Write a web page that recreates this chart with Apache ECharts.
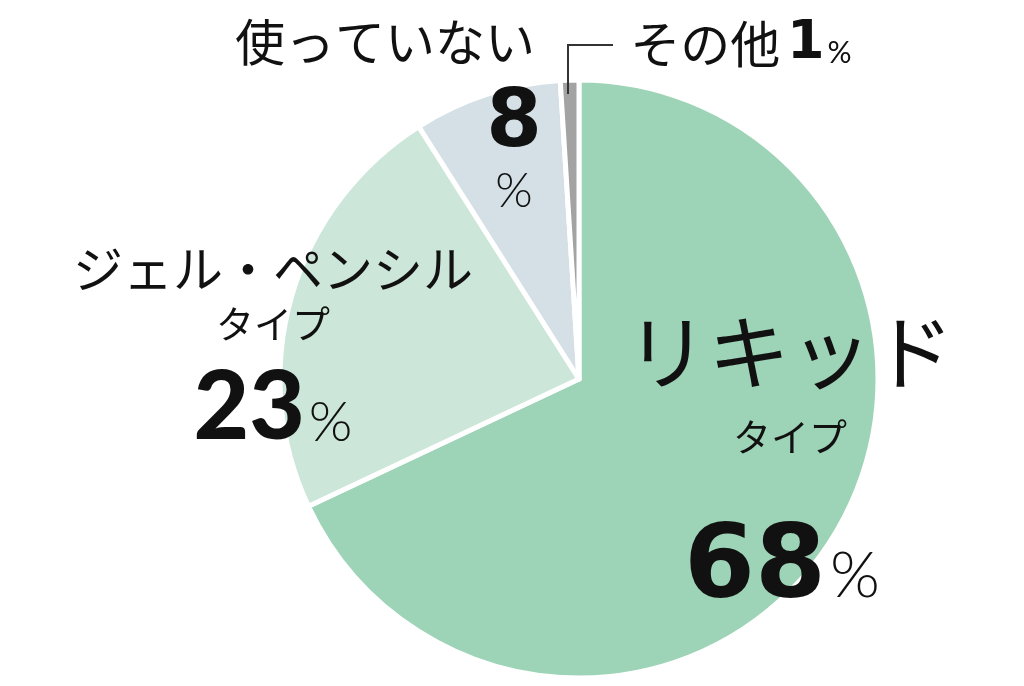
<!DOCTYPE html>
<html>
<head>
<meta charset="utf-8">
<script src="https://cdn.jsdelivr.net/npm/echarts@6/dist/echarts.min.js"></script>
<style>
  html, body { margin: 0; padding: 0; background: #fff; }
  #chart { width: 1024px; height: 686px; }
</style>
</head>
<body>
<div id="chart"></div>
<script>
const names = ["リキッド", "ジェル・ペンシル", "使っていない", "その他"];
const subNames = ["タイプ", "タイプ", "", ""];
const values = [68, 23, 8, 1];
const colors = ["#9dd3b6", "#cce6d9", "#d4e0e6", "#a3a3a3"];

const JP = '"Noto Sans CJK JP", "Noto Sans", sans-serif';
const NUM = 'Lato, "Noto Sans", sans-serif';
const WIDE = '"DejaVu Sans", Lato, sans-serif';

// where each slice's label block is centred
const labelSpots = [
  { x: 790, y: 485 },
  { x: 273, y: 353 },
  { x: 385, y: 42 },
  { x: 741, y: 44 },
];

const chart = echarts.init(document.querySelector("#chart"));

function labelText(index) {
  const v = values[index];
  if (index === 0) {
    return `{big|${names[0]}}\n{sub|${subNames[0]}}\n{num|${v}}{pct|%}`;
  }
  if (index === 1) {
    return `{mid|${names[1]}}\n{sub2|${subNames[1]}}\n{num2|${v}}{pct2|%}`;
  }
  if (index === 2) {
    return `{top|${names[2]}}`;
  }
  return `{oth|${names[3]}}  {num3|${v}}{pct3|%}`;
}

const ink = "#111";
const rich = {
  big: { fontFamily: JP, fontSize: 82, color: ink, lineHeight: 100 },
  sub: { fontFamily: JP, fontSize: 38, color: ink, lineHeight: 70 },
  num: { fontFamily: WIDE, fontSize: 102, fontWeight: "bold", color: ink, lineHeight: 196 },
  pct: { fontFamily: NUM, fontSize: 64, fontWeight: 300, color: ink, verticalAlign: "bottom", padding: [0, 16, 60, 4] },
  mid: { fontFamily: JP, fontSize: 50, color: ink, lineHeight: 58 },
  sub2: { fontFamily: JP, fontSize: 38, color: ink, lineHeight: 52 },
  num2: { fontFamily: NUM, fontSize: 96, fontWeight: 900, color: ink, lineHeight: 116 },
  pct2: { fontFamily: NUM, fontSize: 56, fontWeight: 300, color: ink, verticalAlign: "bottom", padding: [0, 0, 15, 4] },
  top: { fontFamily: JP, fontSize: 50, color: ink, lineHeight: 60 },
  oth: { fontFamily: JP, fontSize: 50, color: ink, lineHeight: 58 },
  num3: { fontFamily: WIDE, fontSize: 54, fontWeight: "bold", color: ink, lineHeight: 58 },
  pct3: { fontFamily: NUM, fontSize: 30, color: ink, verticalAlign: "bottom", padding: [0, 0, 5, 3] },
};

chart.setOption({
  animation: false,
  graphic: [
    {
      // leader from the small grey slice up to its label
      type: "polyline",
      shape: { points: [[568, 94], [568, 45], [613, 45]] },
      style: { stroke: "#333", lineWidth: 2, fill: null },
      z: 10,
    },
  ],
  series: [
    {
      type: "pie",
      center: [579, 379],
      radius: [0, 299],
      startAngle: 90,
      clockwise: true,
      silent: true,
      data: values.map((v, i) => ({
        name: names[i],
        value: v,
        itemStyle: { color: colors[i] },
      })),
      itemStyle: { borderColor: "#fff", borderWidth: 5 },
      label: {
        show: true,
        position: "inside",
        align: "center",
        formatter: (p) => labelText(p.dataIndex),
        rich,
      },
      labelLine: { show: false },
      labelLayout: (params) => {
        const spot = labelSpots[params.dataIndex];
        return { x: spot.x, y: spot.y, align: "center", verticalAlign: "middle" };
      },
    },
    {
      // the "8 %" inside the small slice
      type: "pie",
      center: [579, 379],
      radius: [0, 299],
      startAngle: 90,
      silent: true,
      itemStyle: { color: "transparent" },
      data: values.map((v, i) => ({ name: names[i], value: v })),
      label: {
        show: true,
        position: "inside",
        formatter: (p) => (p.dataIndex === 2 ? `{n|${p.value}}\n{p|%}` : ""),
        rich: {
          n: { fontFamily: WIDE, fontSize: 80, fontWeight: "bold", color: ink, lineHeight: 84 },
          p: { fontFamily: NUM, fontSize: 48, fontWeight: 300, color: ink, lineHeight: 50 },
        },
      },
      labelLine: { show: false },
      labelLayout: (params) =>
        params.dataIndex === 2 ? { x: 514, y: 150, align: "center", verticalAlign: "middle" } : {},
    },
  ],
});
</script>
</body>
</html>
